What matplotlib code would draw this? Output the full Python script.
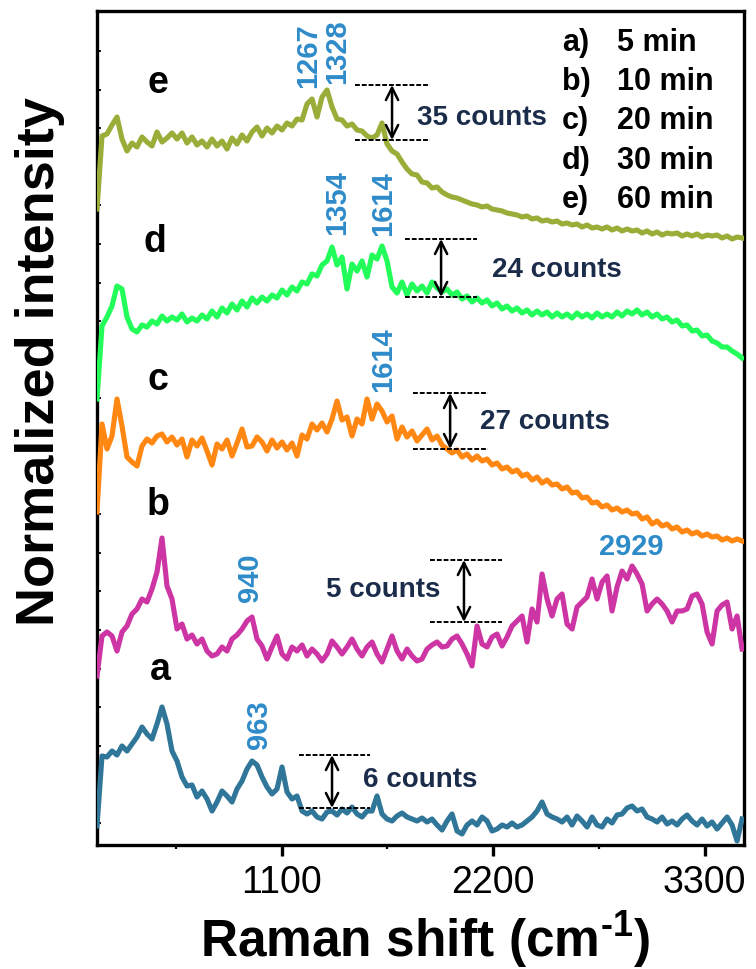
import numpy as np
import matplotlib
matplotlib.use('Agg')
import matplotlib.pyplot as plt
from matplotlib.ticker import FixedLocator, NullFormatter

plt.rcParams['font.family'] = ['Liberation Sans', 'DejaVu Sans']
plt.rcParams['mathtext.fontset'] = 'custom'
plt.rcParams['mathtext.bf'] = 'Liberation Sans:bold'
plt.rcParams['mathtext.rm'] = 'Liberation Sans:bold'

# spectra, offset-stacked (arbitrary units), first point at 140 cm-1, 26 cm-1 apart
spec_e = [636, 709, 711, 720, 728, 706, 694, 702, 698, 708, 703, 699, 713, 703, 707, 712, 706, 712, 702, 708,
          700, 704, 698, 706, 699, 704, 696, 707, 701, 710, 704, 713, 718, 709, 717, 712, 719, 715, 722, 719,
          726, 725, 741, 746, 728, 748, 755, 738, 726, 725, 719, 721, 715, 714, 709, 707, 710, 722, 701, 694,
          691, 683, 676, 671, 670, 663, 662, 657, 658, 653, 650, 648, 647, 645, 643, 641, 640, 638, 639, 636,
          635, 634, 632, 631, 630, 628, 629, 626, 627, 624, 625, 623, 624, 621, 622, 620, 621, 618, 620, 617,
          618, 616, 618, 615, 617, 614, 616, 614, 615, 612, 614, 611, 613, 610, 612, 611, 612, 609, 611, 609,
          611, 608, 610, 609, 610, 607, 609, 606, 608, 607]
spec_d = [446, 519, 528, 539, 559, 556, 528, 516, 513, 520, 518, 524, 521, 529, 524, 528, 525, 531, 523, 527,
          524, 530, 526, 534, 528, 537, 532, 541, 535, 544, 538, 547, 542, 548, 544, 550, 547, 555, 550, 558,
          554, 563, 561, 571, 569, 580, 584, 598, 580, 588, 556, 581, 574, 584, 568, 590, 586, 599, 584, 558,
          552, 563, 550, 561, 554, 559, 552, 563, 557, 553, 556, 550, 553, 546, 549, 543, 547, 542, 545, 539,
          542, 536, 539, 534, 537, 532, 535, 530, 534, 530, 533, 528, 532, 528, 531, 527, 532, 528, 531, 527,
          532, 528, 531, 528, 533, 529, 534, 531, 535, 530, 533, 528, 531, 526, 528, 523, 525, 519, 520, 514,
          515, 509, 510, 504, 502, 498, 498, 494, 491, 487]
spec_c = [333, 421, 396, 409, 446, 419, 388, 383, 379, 399, 406, 402, 409, 411, 403, 408, 400, 406, 388, 405,
          399, 407, 394, 380, 401, 396, 405, 389, 402, 416, 398, 399, 408, 403, 394, 405, 397, 403, 395, 402,
          389, 410, 406, 421, 415, 422, 413, 426, 444, 425, 428, 409, 426, 421, 446, 426, 441, 434, 423, 429,
          406, 418, 408, 414, 404, 410, 416, 405, 409, 400, 396, 392, 395, 388, 391, 385, 389, 384, 386, 380,
          382, 376, 378, 373, 375, 369, 371, 365, 368, 362, 365, 360, 361, 356, 358, 352, 353, 347, 348, 342,
          343, 338, 340, 335, 337, 333, 335, 331, 332, 326, 328, 321, 324, 319, 321, 316, 318, 313, 315, 311,
          313, 309, 311, 308, 309, 305, 307, 304, 306, 304]
spec_b = [169, 209, 213, 209, 194, 213, 219, 231, 236, 246, 243, 256, 273, 307, 259, 246, 216, 221, 206, 210,
          201, 206, 194, 189, 191, 198, 194, 206, 210, 216, 224, 228, 206, 199, 186, 198, 209, 191, 186, 198,
          194, 200, 189, 196, 191, 184, 191, 204, 198, 191, 198, 206, 196, 189, 198, 203, 191, 183, 196, 209,
          194, 186, 196, 189, 184, 186, 196, 200, 203, 198, 199, 206, 209, 201, 191, 179, 219, 201, 198, 208,
          211, 199, 208, 219, 224, 229, 203, 236, 223, 271, 246, 229, 246, 251, 221, 216, 238, 243, 248, 266,
          246, 263, 269, 234, 258, 274, 266, 279, 271, 261, 234, 241, 246, 241, 234, 223, 234, 234, 236, 249,
          251, 241, 213, 201, 234, 240, 243, 216, 229, 196]
spec_a = [19, 89, 88, 94, 90, 99, 94, 101, 108, 118, 111, 106, 121, 138, 121, 94, 84, 68, 59, 60,
          48, 54, 46, 34, 43, 54, 49, 43, 56, 64, 76, 84, 80, 68, 58, 51, 56, 78, 53, 46,
          49, 34, 31, 34, 28, 26, 33, 34, 30, 36, 32, 38, 31, 28, 34, 34, 49, 31, 26, 24,
          29, 32, 28, 26, 24, 27, 23, 26, 20, 15, 24, 31, 14, 11, 20, 24, 20, 28, 24, 14,
          16, 20, 18, 22, 18, 20, 24, 28, 34, 43, 31, 28, 26, 23, 28, 20, 29, 24, 18, 28,
          20, 18, 26, 22, 30, 31, 37, 39, 34, 36, 28, 26, 23, 28, 21, 24, 20, 26, 30, 24,
          20, 26, 19, 23, 16, 22, 28, 20, 4, 26]

spectra = [spec_a, spec_b, spec_c, spec_d, spec_e]
colors = ['#2f7699', '#cc35a3', '#ff8712', '#22fd5a', '#9aad38']
curve_letters = ['a', 'b', 'c', 'd', 'e']
letter_pos = [(468, 176), (457, 341), (457, 466), (442, 604), (457, 763)]
times = ['5 min', '10 min', '20 min', '30 min', '60 min']

# peak labels: text, position, rotation
peaks = ['963', '940', '2929', '1614', '1354', '1614', '1267', '1328']
peak_pos = [(982, 121), (936, 268), (2917, 299), (1627, 486), (1388, 643), (1627, 642), (1237, 790), (1388, 794)]
peak_rot = [90, 90, 0, 90, 90, 90, 90, 90]

# count scale bars: label, x span, y bottom/top, arrow x, text position
counts = ['6 counts', '5 counts', '27 counts', '24 counts', '35 counts']
bar_x = [(1190, 1560), (1872, 2246), (1783, 2173), (1742, 2116), (1482, 1872)]
bar_y = [(37, 90), (223, 285), (396, 452), (548, 606), (705, 760)]
arrow_x = [1362, 2048, 1976, 1929, 1674]
count_pos = [(1820, 66), (1627, 256), (2470, 424), (2532, 576), (2142, 728)]

fig = plt.figure(figsize=(7.56, 9.70), dpi=100)
ax = fig.add_axes([97 / 756, 1 - 846 / 970, 647 / 756, 834 / 970])

for spec, col in zip(spectra, colors):
    x = 140 + 26 * np.arange(len(spec))
    ax.plot(x, spec, color=col, lw=3.7, solid_joinstyle='round', zorder=3)

for let, (lx, ly) in zip(curve_letters, letter_pos):
    ax.text(lx, ly, let, fontsize=27, fontweight='bold', ha='center', va='center')

for p, (px, py), rot in zip(peaks, peak_pos, peak_rot):
    ax.text(px, py, p, fontsize=21, fontweight='bold', color='#2e8bc9',
            ha='center', va='center', rotation=rot)

for lab, (x0, x1), (y0, y1), xa, (tx, ty) in zip(counts, bar_x, bar_y, arrow_x, count_pos):
    ax.plot([x0, x1], [y0, y0], color='black', lw=1.4, ls=(0, (2.5, 1)), zorder=4)
    ax.plot([x0, x1], [y1, y1], color='black', lw=1.4, ls=(0, (2.5, 1)), zorder=4)
    ax.annotate('', xy=(xa, y1), xytext=(xa, y0),
                arrowprops=dict(arrowstyle='<->', lw=1.8, color='black',
                                shrinkA=0, shrinkB=0, mutation_scale=22), zorder=4)
    ax.text(tx, ty, lab, fontsize=20, fontweight='bold', color='#1b2c4b', ha='center', va='center')

# legend block, top right
for i, (let, t) in enumerate(zip(curve_letters, times)):
    yy = 1 - (43 + 39.2 * i) / 970
    fig.text(562 / 756, yy, let + ')', fontsize=22, fontweight='bold', ha='left', va='center')
    fig.text(617 / 756, yy, t, fontsize=22, fontweight='bold', ha='left', va='center')

ax.set_xlim(140, 3504)
ax.set_ylim(0, 834)
ax.set_xticks([1100, 2200, 3300])
ax.xaxis.set_minor_locator(FixedLocator([550, 1650, 2750]))
ax.set_xticklabels(['1100', '2200', '3300'], fontsize=27)
ax.set_yticks(np.arange(22, 800, 38.6))
ax.yaxis.set_major_formatter(NullFormatter())
ax.tick_params(axis='x', which='major', direction='out', length=8, width=2.4, pad=6)
ax.tick_params(axis='x', which='minor', direction='out', length=3, width=1.6)
ax.tick_params(axis='y', which='major', direction='in', length=3, width=1.3)
for s in ax.spines.values():
    s.set_linewidth(2.4)

fig.text(425 / 756, 1 - 940 / 970, r'Raman shift (cm$^{\text{-1}}$)', fontsize=37,
         fontweight='bold', ha='center', va='center')
fig.text(40 / 756, 1 - 362 / 970, 'Normalized intensity', fontsize=39,
         fontweight='bold', ha='center', va='center', rotation=90)

fig.savefig('out.png', dpi=100)
